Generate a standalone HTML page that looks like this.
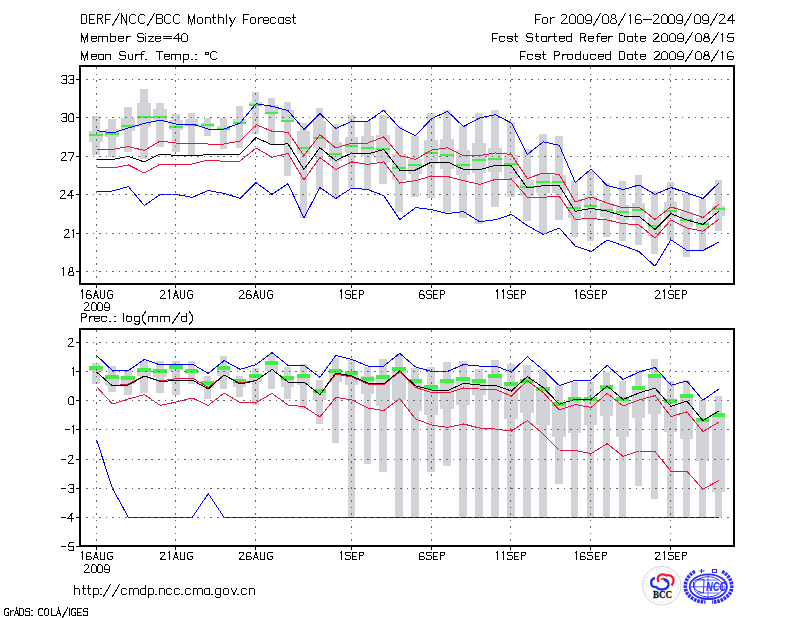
<!DOCTYPE html>
<html><head><meta charset="utf-8"><style>
html,body{margin:0;padding:0;background:#fff;}
body{width:800px;height:618px;position:relative;overflow:hidden;}
</style></head><body>
<svg width="800" height="618" viewBox="0 0 800 618" style="position:absolute;left:0;top:0">
<rect width="800" height="618" fill="#fff"/>
<g shape-rendering="crispEdges">
<rect x="92" y="116" width="8" height="39.00" fill="#d2d3d8"/>
<rect x="89" y="131" width="14" height="11.00" fill="#d2d3d8"/>
<rect x="108" y="119" width="8" height="38.00" fill="#d2d3d8"/>
<rect x="105" y="129" width="14" height="8.00" fill="#d2d3d8"/>
<rect x="124" y="107" width="8" height="45.00" fill="#d2d3d8"/>
<rect x="121" y="118" width="14" height="13.00" fill="#d2d3d8"/>
<rect x="140" y="89" width="8" height="70.00" fill="#d2d3d8"/>
<rect x="137" y="103" width="14" height="24.00" fill="#d2d3d8"/>
<rect x="156" y="103" width="8" height="44.00" fill="#d2d3d8"/>
<rect x="153" y="109" width="14" height="12.00" fill="#d2d3d8"/>
<rect x="172" y="114" width="8" height="38.00" fill="#d2d3d8"/>
<rect x="169" y="120" width="14" height="10.00" fill="#d2d3d8"/>
<rect x="188" y="113" width="7" height="42.00" fill="#d2d3d8"/>
<rect x="185" y="119" width="13" height="6.00" fill="#d2d3d8"/>
<rect x="204" y="118" width="7" height="18.00" fill="#d2d3d8"/>
<rect x="201" y="123" width="13" height="4.00" fill="#d2d3d8"/>
<rect x="220" y="118" width="7" height="31.00" fill="#d2d3d8"/>
<rect x="217" y="126" width="13" height="4.00" fill="#d2d3d8"/>
<rect x="236" y="106" width="7" height="42.00" fill="#d2d3d8"/>
<rect x="233" y="119" width="13" height="5.00" fill="#d2d3d8"/>
<rect x="252" y="92" width="7" height="42.00" fill="#d2d3d8"/>
<rect x="249" y="102" width="13" height="3.00" fill="#d2d3d8"/>
<rect x="268" y="98" width="7" height="47.00" fill="#d2d3d8"/>
<rect x="265" y="105" width="13" height="9.00" fill="#d2d3d8"/>
<rect x="284" y="102" width="7" height="74.00" fill="#d2d3d8"/>
<rect x="281" y="110" width="13" height="11.00" fill="#d2d3d8"/>
<rect x="300" y="123" width="7" height="95.00" fill="#d2d3d8"/>
<rect x="297" y="131" width="13" height="23.00" fill="#d2d3d8"/>
<rect x="316" y="108" width="7" height="82.00" fill="#d2d3d8"/>
<rect x="313" y="121" width="13" height="27.00" fill="#d2d3d8"/>
<rect x="332" y="124" width="7" height="75.00" fill="#d2d3d8"/>
<rect x="329" y="142" width="13" height="19.00" fill="#d2d3d8"/>
<rect x="348" y="115" width="7" height="73.00" fill="#d2d3d8"/>
<rect x="345" y="137" width="13" height="16.00" fill="#d2d3d8"/>
<rect x="364" y="121" width="7" height="69.00" fill="#d2d3d8"/>
<rect x="361" y="136" width="13" height="20.00" fill="#d2d3d8"/>
<rect x="379" y="115" width="8" height="69.00" fill="#d2d3d8"/>
<rect x="376" y="135" width="14" height="27.00" fill="#d2d3d8"/>
<rect x="395" y="126" width="8" height="86.00" fill="#d2d3d8"/>
<rect x="392" y="154" width="14" height="26.00" fill="#d2d3d8"/>
<rect x="411" y="136" width="8" height="61.00" fill="#d2d3d8"/>
<rect x="408" y="159" width="14" height="15.00" fill="#d2d3d8"/>
<rect x="427" y="113" width="8" height="85.00" fill="#d2d3d8"/>
<rect x="424" y="140" width="14" height="24.00" fill="#d2d3d8"/>
<rect x="443" y="110" width="8" height="102.00" fill="#d2d3d8"/>
<rect x="440" y="139" width="14" height="30.00" fill="#d2d3d8"/>
<rect x="459" y="126" width="8" height="92.00" fill="#d2d3d8"/>
<rect x="456" y="150" width="14" height="25.00" fill="#d2d3d8"/>
<rect x="475" y="113" width="8" height="111.00" fill="#d2d3d8"/>
<rect x="472" y="143" width="14" height="30.00" fill="#d2d3d8"/>
<rect x="491" y="110" width="8" height="97.00" fill="#d2d3d8"/>
<rect x="488" y="148" width="14" height="24.00" fill="#d2d3d8"/>
<rect x="507" y="122" width="8" height="75.00" fill="#d2d3d8"/>
<rect x="504" y="155" width="14" height="24.00" fill="#d2d3d8"/>
<rect x="523" y="149" width="8" height="72.00" fill="#d2d3d8"/>
<rect x="520" y="180" width="14" height="16.00" fill="#d2d3d8"/>
<rect x="539" y="134" width="8" height="100.00" fill="#d2d3d8"/>
<rect x="536" y="174" width="14" height="19.00" fill="#d2d3d8"/>
<rect x="555" y="136" width="8" height="84.00" fill="#d2d3d8"/>
<rect x="552" y="175" width="14" height="18.00" fill="#d2d3d8"/>
<rect x="571" y="181" width="7" height="56.00" fill="#d2d3d8"/>
<rect x="568" y="199" width="13" height="19.00" fill="#d2d3d8"/>
<rect x="587" y="171" width="7" height="70.00" fill="#d2d3d8"/>
<rect x="584" y="196" width="13" height="22.00" fill="#d2d3d8"/>
<rect x="603" y="183" width="7" height="54.00" fill="#d2d3d8"/>
<rect x="600" y="203" width="13" height="14.00" fill="#d2d3d8"/>
<rect x="619" y="181" width="7" height="60.00" fill="#d2d3d8"/>
<rect x="616" y="205" width="13" height="15.00" fill="#d2d3d8"/>
<rect x="635" y="175" width="7" height="70.00" fill="#d2d3d8"/>
<rect x="632" y="203" width="13" height="17.00" fill="#d2d3d8"/>
<rect x="651" y="191" width="7" height="63.00" fill="#d2d3d8"/>
<rect x="648" y="217" width="13" height="19.00" fill="#d2d3d8"/>
<rect x="667" y="182" width="7" height="58.00" fill="#d2d3d8"/>
<rect x="664" y="202" width="13" height="16.00" fill="#d2d3d8"/>
<rect x="683" y="193" width="7" height="64.00" fill="#d2d3d8"/>
<rect x="680" y="212" width="13" height="15.00" fill="#d2d3d8"/>
<rect x="699" y="199" width="7" height="52.00" fill="#d2d3d8"/>
<rect x="696" y="218" width="13" height="11.00" fill="#d2d3d8"/>
<rect x="715" y="180" width="7" height="51.00" fill="#d2d3d8"/>
<rect x="712" y="206" width="13" height="10.00" fill="#d2d3d8"/>
<rect x="89" y="134" width="14" height="2" fill="#42ee42"/>
<rect x="105" y="133" width="14" height="2" fill="#42ee42"/>
<rect x="121" y="125" width="14" height="2" fill="#42ee42"/>
<rect x="137" y="116" width="14" height="2" fill="#42ee42"/>
<rect x="153" y="116" width="14" height="2" fill="#42ee42"/>
<rect x="169" y="126" width="14" height="2" fill="#42ee42"/>
<rect x="185" y="124" width="13" height="2" fill="#42ee42"/>
<rect x="201" y="124" width="13" height="2" fill="#42ee42"/>
<rect x="217" y="128" width="13" height="2" fill="#42ee42"/>
<rect x="233" y="122" width="13" height="2" fill="#42ee42"/>
<rect x="249" y="104" width="13" height="2" fill="#42ee42"/>
<rect x="265" y="112" width="13" height="2" fill="#42ee42"/>
<rect x="281" y="120" width="13" height="2" fill="#42ee42"/>
<rect x="297" y="147" width="13" height="2" fill="#42ee42"/>
<rect x="313" y="137" width="13" height="2" fill="#42ee42"/>
<rect x="329" y="153" width="13" height="2" fill="#42ee42"/>
<rect x="345" y="145" width="13" height="2" fill="#42ee42"/>
<rect x="361" y="147" width="13" height="2" fill="#42ee42"/>
<rect x="376" y="148" width="14" height="2" fill="#42ee42"/>
<rect x="392" y="167" width="14" height="2" fill="#42ee42"/>
<rect x="408" y="164" width="14" height="2" fill="#42ee42"/>
<rect x="424" y="152" width="14" height="2" fill="#42ee42"/>
<rect x="440" y="154" width="14" height="2" fill="#42ee42"/>
<rect x="456" y="164" width="14" height="2" fill="#42ee42"/>
<rect x="472" y="159" width="14" height="2" fill="#42ee42"/>
<rect x="488" y="158" width="14" height="2" fill="#42ee42"/>
<rect x="504" y="163" width="14" height="2" fill="#42ee42"/>
<rect x="520" y="186" width="14" height="2" fill="#42ee42"/>
<rect x="536" y="181" width="14" height="2" fill="#42ee42"/>
<rect x="552" y="181" width="14" height="2" fill="#42ee42"/>
<rect x="568" y="207" width="13" height="2" fill="#42ee42"/>
<rect x="584" y="205" width="13" height="2" fill="#42ee42"/>
<rect x="600" y="209" width="13" height="2" fill="#42ee42"/>
<rect x="616" y="211" width="13" height="2" fill="#42ee42"/>
<rect x="632" y="209" width="13" height="2" fill="#42ee42"/>
<rect x="648" y="225" width="13" height="2" fill="#42ee42"/>
<rect x="664" y="210" width="13" height="2" fill="#42ee42"/>
<rect x="680" y="219" width="13" height="2" fill="#42ee42"/>
<rect x="696" y="223" width="13" height="2" fill="#42ee42"/>
<rect x="712" y="208" width="13" height="2" fill="#42ee42"/>
</g>
<polyline points="96.50,192.00 112.46,191.00 128.41,186.60 144.37,205.60 160.33,194.40 176.28,194.40 192.24,197.40 208.20,190.60 224.16,193.40 240.11,198.40 256.07,182.60 272.03,194.40 287.98,183.60 303.94,218.00 319.90,187.60 335.86,198.40 351.81,188.00 367.77,189.60 383.73,195.60 399.68,219.60 415.64,207.60 431.60,209.60 447.55,213.60 463.51,211.60 479.47,221.60 495.43,219.75 511.38,214.40 527.34,225.60 543.30,234.40 559.25,228.00 575.21,246.00 591.17,251.60 607.12,240.00 623.08,245.60 639.04,251.60 655.00,266.25 670.95,239.75 686.91,250.40 702.87,250.40 718.82,242.25" fill="none" stroke="#0000ff" stroke-width="1" stroke-linejoin="miter" shape-rendering="crispEdges"/>
<polyline points="96.50,167.00 112.46,168.00 128.41,165.00 144.37,173.00 160.33,164.00 176.28,164.00 192.24,164.00 208.20,160.00 224.16,161.40 240.11,161.00 256.07,148.00 272.03,157.25 287.98,153.50 303.94,180.00 319.90,157.50 335.86,169.40 351.81,161.90 367.77,164.40 383.73,161.90 399.68,183.00 415.64,180.60 431.60,176.00 447.55,176.50 463.51,180.60 479.47,184.40 495.43,179.40 511.38,179.00 527.34,197.25 543.30,197.25 559.25,196.25 575.21,219.40 591.17,218.40 607.12,220.00 623.08,223.60 639.04,225.00 655.00,238.00 670.95,220.00 686.91,228.00 702.87,231.25 718.82,219.40" fill="none" stroke="#e8143c" stroke-width="1" stroke-linejoin="miter" shape-rendering="crispEdges"/>
<polyline points="96.50,159.00 112.46,159.40 128.41,156.40 144.37,162.00 160.33,154.00 176.28,155.50 192.24,156.00 208.20,154.50 224.16,155.00 240.11,154.00 256.07,137.50 272.03,145.00 287.98,143.75 303.94,169.40 319.90,147.75 335.86,160.60 351.81,153.00 367.77,154.00 383.73,149.40 399.68,170.00 415.64,170.00 431.60,162.00 447.55,162.00 463.51,169.40 479.47,169.75 495.43,165.25 511.38,166.00 527.34,188.00 543.30,185.60 559.25,185.60 575.21,211.25 591.17,208.40 607.12,211.00 623.08,216.00 639.04,216.40 655.00,229.40 670.95,213.75 686.91,220.00 702.87,224.40 718.82,211.25" fill="none" stroke="#000" stroke-width="1" stroke-linejoin="miter" shape-rendering="crispEdges"/>
<polyline points="96.50,149.40 112.46,149.40 128.41,146.60 144.37,150.40 160.33,141.00 176.28,143.00 192.24,143.00 208.20,144.00 224.16,144.00 240.11,141.00 256.07,124.75 272.03,131.25 287.98,132.25 303.94,155.60 319.90,134.75 335.86,148.00 351.81,143.00 367.77,143.00 383.73,136.90 399.68,155.60 415.64,159.40 431.60,150.00 447.55,147.75 463.51,155.60 479.47,155.60 495.43,153.00 511.38,154.40 527.34,178.50 543.30,173.00 559.25,174.40 575.21,202.00 591.17,197.00 607.12,203.00 623.08,208.00 639.04,207.00 655.00,219.40 670.95,206.90 686.91,211.90 702.87,217.50 718.82,204.40" fill="none" stroke="#e8143c" stroke-width="1" stroke-linejoin="miter" shape-rendering="crispEdges"/>
<polyline points="96.50,130.60 112.46,133.00 128.41,128.00 144.37,123.40 160.33,120.00 176.28,124.00 192.24,124.00 208.20,129.00 224.16,129.00 240.11,123.00 256.07,103.75 272.03,106.25 287.98,110.60 303.94,129.40 319.90,113.40 335.86,128.50 351.81,121.25 367.77,121.25 383.73,110.25 399.68,128.00 415.64,135.60 431.60,118.60 447.55,111.40 463.51,126.60 479.47,118.00 495.43,114.75 511.38,123.00 527.34,154.40 543.30,141.90 559.25,145.25 575.21,182.50 591.17,169.00 607.12,185.60 623.08,189.60 639.04,185.00 655.00,194.40 670.95,187.50 686.91,192.75 702.87,198.50 718.82,183.00" fill="none" stroke="#0000ff" stroke-width="1" stroke-linejoin="miter" shape-rendering="crispEdges"/>
<line x1="81" y1="79.5" x2="733" y2="79.5" stroke="#666666" stroke-width="1" stroke-dasharray="1.6 4.945" stroke-dashoffset="1.545" shape-rendering="crispEdges"/>
<line x1="81" y1="117.5" x2="733" y2="117.5" stroke="#666666" stroke-width="1" stroke-dasharray="1.6 4.945" stroke-dashoffset="1.545" shape-rendering="crispEdges"/>
<line x1="81" y1="156.5" x2="733" y2="156.5" stroke="#666666" stroke-width="1" stroke-dasharray="1.6 4.945" stroke-dashoffset="1.545" shape-rendering="crispEdges"/>
<line x1="81" y1="194.5" x2="733" y2="194.5" stroke="#666666" stroke-width="1" stroke-dasharray="1.6 4.945" stroke-dashoffset="1.545" shape-rendering="crispEdges"/>
<line x1="81" y1="233.5" x2="733" y2="233.5" stroke="#666666" stroke-width="1" stroke-dasharray="1.6 4.945" stroke-dashoffset="1.545" shape-rendering="crispEdges"/>
<line x1="81" y1="271.5" x2="733" y2="271.5" stroke="#666666" stroke-width="1" stroke-dasharray="1.6 4.945" stroke-dashoffset="1.545" shape-rendering="crispEdges"/>
<line x1="96.5" y1="67" x2="96.5" y2="283" stroke="#666666" stroke-width="1" stroke-dasharray="1.6 4.945" shape-rendering="crispEdges"/>
<line x1="175.5" y1="67" x2="175.5" y2="283" stroke="#666666" stroke-width="1" stroke-dasharray="1.6 4.945" shape-rendering="crispEdges"/>
<line x1="255.5" y1="67" x2="255.5" y2="283" stroke="#666666" stroke-width="1" stroke-dasharray="1.6 4.945" shape-rendering="crispEdges"/>
<line x1="351.5" y1="67" x2="351.5" y2="283" stroke="#666666" stroke-width="1" stroke-dasharray="1.6 4.945" shape-rendering="crispEdges"/>
<line x1="431.5" y1="67" x2="431.5" y2="283" stroke="#666666" stroke-width="1" stroke-dasharray="1.6 4.945" shape-rendering="crispEdges"/>
<line x1="510.5" y1="67" x2="510.5" y2="283" stroke="#666666" stroke-width="1" stroke-dasharray="1.6 4.945" shape-rendering="crispEdges"/>
<line x1="590.5" y1="67" x2="590.5" y2="283" stroke="#666666" stroke-width="1" stroke-dasharray="1.6 4.945" shape-rendering="crispEdges"/>
<line x1="670.5" y1="67" x2="670.5" y2="283" stroke="#666666" stroke-width="1" stroke-dasharray="1.6 4.945" shape-rendering="crispEdges"/>
<rect x="80" y="66" width="654" height="218" fill="none" stroke="#000" stroke-width="2" shape-rendering="crispEdges"/>
<line x1="76" y1="79.5" x2="79" y2="79.5" stroke="#000" stroke-width="1" shape-rendering="crispEdges"/>
<line x1="76" y1="117.5" x2="79" y2="117.5" stroke="#000" stroke-width="1" shape-rendering="crispEdges"/>
<line x1="76" y1="156.5" x2="79" y2="156.5" stroke="#000" stroke-width="1" shape-rendering="crispEdges"/>
<line x1="76" y1="194.5" x2="79" y2="194.5" stroke="#000" stroke-width="1" shape-rendering="crispEdges"/>
<line x1="76" y1="233.5" x2="79" y2="233.5" stroke="#000" stroke-width="1" shape-rendering="crispEdges"/>
<line x1="76" y1="271.5" x2="79" y2="271.5" stroke="#000" stroke-width="1" shape-rendering="crispEdges"/>
<line x1="96.5" y1="285" x2="96.5" y2="288" stroke="#000" stroke-width="1" shape-rendering="crispEdges"/>
<line x1="175.5" y1="285" x2="175.5" y2="288" stroke="#000" stroke-width="1" shape-rendering="crispEdges"/>
<line x1="255.5" y1="285" x2="255.5" y2="288" stroke="#000" stroke-width="1" shape-rendering="crispEdges"/>
<line x1="351.5" y1="285" x2="351.5" y2="288" stroke="#000" stroke-width="1" shape-rendering="crispEdges"/>
<line x1="431.5" y1="285" x2="431.5" y2="288" stroke="#000" stroke-width="1" shape-rendering="crispEdges"/>
<line x1="510.5" y1="285" x2="510.5" y2="288" stroke="#000" stroke-width="1" shape-rendering="crispEdges"/>
<line x1="590.5" y1="285" x2="590.5" y2="288" stroke="#000" stroke-width="1" shape-rendering="crispEdges"/>
<line x1="670.5" y1="285" x2="670.5" y2="288" stroke="#000" stroke-width="1" shape-rendering="crispEdges"/>
<g shape-rendering="crispEdges">
<rect x="92" y="363" width="8" height="21.00" fill="#d2d3d8"/>
<rect x="89" y="366" width="14" height="5.00" fill="#d2d3d8"/>
<rect x="108" y="366" width="8" height="26.00" fill="#d2d3d8"/>
<rect x="105" y="375" width="14" height="11.00" fill="#d2d3d8"/>
<rect x="124" y="370" width="8" height="25.00" fill="#d2d3d8"/>
<rect x="121" y="376" width="14" height="8.00" fill="#d2d3d8"/>
<rect x="140" y="361" width="8" height="31.50" fill="#d2d3d8"/>
<rect x="137" y="368" width="14" height="8.00" fill="#d2d3d8"/>
<rect x="156" y="361" width="8" height="31.50" fill="#d2d3d8"/>
<rect x="153" y="369" width="14" height="7.50" fill="#d2d3d8"/>
<rect x="172" y="361" width="8" height="33.60" fill="#d2d3d8"/>
<rect x="169" y="365" width="14" height="5.60" fill="#d2d3d8"/>
<rect x="188" y="361" width="7" height="23.00" fill="#d2d3d8"/>
<rect x="185" y="369" width="13" height="5.00" fill="#d2d3d8"/>
<rect x="204" y="376" width="7" height="23.40" fill="#d2d3d8"/>
<rect x="201" y="380.6" width="13" height="7.40" fill="#d2d3d8"/>
<rect x="220" y="356" width="7" height="33.00" fill="#d2d3d8"/>
<rect x="217" y="366" width="13" height="10.00" fill="#d2d3d8"/>
<rect x="236" y="376" width="7" height="21.40" fill="#d2d3d8"/>
<rect x="233" y="379" width="13" height="8.00" fill="#d2d3d8"/>
<rect x="252" y="368" width="7" height="36.60" fill="#d2d3d8"/>
<rect x="249" y="374" width="13" height="8.00" fill="#d2d3d8"/>
<rect x="268" y="354" width="7" height="34.60" fill="#d2d3d8"/>
<rect x="265" y="360.6" width="13" height="10.40" fill="#d2d3d8"/>
<rect x="284" y="366.6" width="7" height="32.00" fill="#d2d3d8"/>
<rect x="281" y="376" width="13" height="10.60" fill="#d2d3d8"/>
<rect x="300" y="364" width="7" height="45.40" fill="#d2d3d8"/>
<rect x="297" y="374" width="13" height="11.00" fill="#d2d3d8"/>
<rect x="316" y="380" width="7" height="43.50" fill="#d2d3d8"/>
<rect x="313" y="389" width="13" height="11.00" fill="#d2d3d8"/>
<rect x="332" y="358" width="7" height="84.50" fill="#d2d3d8"/>
<rect x="329" y="369" width="13" height="13.00" fill="#d2d3d8"/>
<rect x="348" y="360" width="7" height="157.00" fill="#d2d3d8"/>
<rect x="345" y="371.4" width="13" height="14.00" fill="#d2d3d8"/>
<rect x="364" y="367" width="7" height="96.60" fill="#d2d3d8"/>
<rect x="361" y="376" width="13" height="18.00" fill="#d2d3d8"/>
<rect x="379" y="359.4" width="8" height="112.20" fill="#d2d3d8"/>
<rect x="376" y="375" width="14" height="31.00" fill="#d2d3d8"/>
<rect x="395" y="354" width="8" height="163.00" fill="#d2d3d8"/>
<rect x="392" y="367" width="14" height="33.00" fill="#d2d3d8"/>
<rect x="411" y="368" width="8" height="149.00" fill="#d2d3d8"/>
<rect x="408" y="379" width="14" height="32.00" fill="#d2d3d8"/>
<rect x="427" y="367" width="8" height="105.40" fill="#d2d3d8"/>
<rect x="424" y="385" width="14" height="29.60" fill="#d2d3d8"/>
<rect x="443" y="362" width="8" height="104.40" fill="#d2d3d8"/>
<rect x="440" y="379" width="14" height="29.60" fill="#d2d3d8"/>
<rect x="459" y="361" width="8" height="156.00" fill="#d2d3d8"/>
<rect x="456" y="377" width="14" height="28.40" fill="#d2d3d8"/>
<rect x="475" y="369" width="8" height="148.00" fill="#d2d3d8"/>
<rect x="472" y="379" width="14" height="16.40" fill="#d2d3d8"/>
<rect x="491" y="360" width="8" height="157.00" fill="#d2d3d8"/>
<rect x="488" y="374" width="14" height="26.00" fill="#d2d3d8"/>
<rect x="507" y="364" width="8" height="153.00" fill="#d2d3d8"/>
<rect x="504" y="382" width="14" height="36.60" fill="#d2d3d8"/>
<rect x="523" y="365" width="8" height="152.00" fill="#d2d3d8"/>
<rect x="520" y="379" width="14" height="33.60" fill="#d2d3d8"/>
<rect x="539" y="369" width="8" height="148.00" fill="#d2d3d8"/>
<rect x="536" y="386.6" width="14" height="38.00" fill="#d2d3d8"/>
<rect x="555" y="386" width="8" height="97.60" fill="#d2d3d8"/>
<rect x="552" y="402" width="14" height="35.00" fill="#d2d3d8"/>
<rect x="571" y="382" width="7" height="135.00" fill="#d2d3d8"/>
<rect x="568" y="397" width="13" height="36.00" fill="#d2d3d8"/>
<rect x="587" y="382" width="7" height="135.00" fill="#d2d3d8"/>
<rect x="584" y="397" width="13" height="28.00" fill="#d2d3d8"/>
<rect x="603" y="372" width="7" height="145.00" fill="#d2d3d8"/>
<rect x="600" y="385" width="13" height="31.00" fill="#d2d3d8"/>
<rect x="619" y="381" width="7" height="136.00" fill="#d2d3d8"/>
<rect x="616" y="397.4" width="13" height="39.60" fill="#d2d3d8"/>
<rect x="635" y="370" width="7" height="116.40" fill="#d2d3d8"/>
<rect x="632" y="386" width="13" height="32.00" fill="#d2d3d8"/>
<rect x="651" y="359" width="7" height="139.90" fill="#d2d3d8"/>
<rect x="648" y="374" width="13" height="40.40" fill="#d2d3d8"/>
<rect x="667" y="381" width="7" height="136.00" fill="#d2d3d8"/>
<rect x="664" y="399" width="13" height="32.90" fill="#d2d3d8"/>
<rect x="683" y="380" width="7" height="137.00" fill="#d2d3d8"/>
<rect x="680" y="394" width="13" height="44.75" fill="#d2d3d8"/>
<rect x="699" y="400" width="7" height="117.00" fill="#d2d3d8"/>
<rect x="696" y="417.75" width="13" height="42.85" fill="#d2d3d8"/>
<rect x="715" y="396" width="7" height="121.00" fill="#d2d3d8"/>
<rect x="712" y="412.9" width="13" height="78.85" fill="#d2d3d8"/>
<rect x="89" y="366" width="14" height="4" fill="#42ee42"/>
<rect x="105" y="375" width="14" height="4" fill="#42ee42"/>
<rect x="121" y="376" width="14" height="4" fill="#42ee42"/>
<rect x="137" y="368" width="14" height="4" fill="#42ee42"/>
<rect x="153" y="369" width="14" height="4" fill="#42ee42"/>
<rect x="169" y="365" width="14" height="4" fill="#42ee42"/>
<rect x="185" y="369" width="13" height="4" fill="#42ee42"/>
<rect x="201" y="381" width="13" height="4" fill="#42ee42"/>
<rect x="217" y="366" width="13" height="4" fill="#42ee42"/>
<rect x="233" y="379" width="13" height="4" fill="#42ee42"/>
<rect x="249" y="374" width="13" height="4" fill="#42ee42"/>
<rect x="265" y="361" width="13" height="4" fill="#42ee42"/>
<rect x="281" y="376" width="13" height="4" fill="#42ee42"/>
<rect x="297" y="374" width="13" height="4" fill="#42ee42"/>
<rect x="313" y="389" width="13" height="4" fill="#42ee42"/>
<rect x="329" y="369" width="13" height="4" fill="#42ee42"/>
<rect x="345" y="371" width="13" height="4" fill="#42ee42"/>
<rect x="361" y="376.6" width="13" height="4" fill="#42ee42"/>
<rect x="376" y="375" width="14" height="4" fill="#42ee42"/>
<rect x="392" y="367" width="14" height="4" fill="#42ee42"/>
<rect x="408" y="379" width="14" height="4" fill="#42ee42"/>
<rect x="424" y="385" width="14" height="4" fill="#42ee42"/>
<rect x="440" y="379" width="14" height="4" fill="#42ee42"/>
<rect x="456" y="377" width="14" height="4" fill="#42ee42"/>
<rect x="472" y="379" width="14" height="4" fill="#42ee42"/>
<rect x="488" y="374" width="14" height="4" fill="#42ee42"/>
<rect x="504" y="382" width="14" height="4" fill="#42ee42"/>
<rect x="520" y="379" width="14" height="4" fill="#42ee42"/>
<rect x="536" y="387" width="14" height="4" fill="#42ee42"/>
<rect x="552" y="402" width="14" height="4" fill="#42ee42"/>
<rect x="568" y="397" width="13" height="4" fill="#42ee42"/>
<rect x="584" y="397" width="13" height="4" fill="#42ee42"/>
<rect x="600" y="385" width="13" height="4" fill="#42ee42"/>
<rect x="616" y="397" width="13" height="4" fill="#42ee42"/>
<rect x="632" y="386" width="13" height="4" fill="#42ee42"/>
<rect x="648" y="374" width="13" height="4" fill="#42ee42"/>
<rect x="664" y="399" width="13" height="4" fill="#42ee42"/>
<rect x="680" y="394" width="13" height="4" fill="#42ee42"/>
<rect x="696" y="418" width="13" height="4" fill="#42ee42"/>
<rect x="712" y="413" width="13" height="4" fill="#42ee42"/>
</g>
<polyline points="96.50,439.60 112.46,488.40 128.41,517.40 144.37,517.40 160.33,517.40 176.28,517.40 192.24,517.40 208.20,493.60 224.16,517.40 240.11,517.40 256.07,517.40 272.03,517.40 287.98,517.40 303.94,517.40 319.90,517.40 335.86,517.40 351.81,517.40 367.77,517.40 383.73,517.40 399.68,517.40 415.64,517.40 431.60,517.40 447.55,517.40 463.51,517.40 479.47,517.40 495.43,517.40 511.38,517.40 527.34,517.40 543.30,517.40 559.25,517.40 575.21,517.40 591.17,517.40 607.12,517.40 623.08,517.40 639.04,517.40 655.00,517.40 670.95,517.40 686.91,517.40 702.87,517.40 718.82,517.40" fill="none" stroke="#0000ff" stroke-width="1" stroke-linejoin="miter" shape-rendering="crispEdges"/>
<polyline points="96.50,386.60 112.46,404.00 128.41,399.00 144.37,394.60 160.33,405.40 176.28,402.00 192.24,398.00 208.20,405.40 224.16,393.00 240.11,402.60 256.07,402.60 272.03,393.40 287.98,405.00 303.94,406.60 319.90,417.00 335.86,397.40 351.81,400.00 367.77,408.00 383.73,410.60 399.68,398.60 415.64,419.00 431.60,425.00 447.55,427.40 463.51,424.00 479.47,428.00 495.43,429.00 511.38,431.00 527.34,420.60 543.30,434.00 559.25,450.00 575.21,450.40 591.17,453.60 607.12,443.60 623.08,456.40 639.04,451.00 655.00,451.50 670.95,471.25 686.91,471.25 702.87,489.25 718.82,480.50" fill="none" stroke="#e8143c" stroke-width="1" stroke-linejoin="miter" shape-rendering="crispEdges"/>
<polyline points="96.50,372.00 112.46,386.00 128.41,384.00 144.37,376.00 160.33,381.00 176.28,378.60 192.24,378.00 208.20,387.40 224.16,375.00 240.11,383.00 256.07,380.60 272.03,369.40 287.98,382.00 303.94,382.00 319.90,394.60 335.86,374.00 351.81,377.00 367.77,384.00 383.73,384.50 399.68,372.00 415.64,387.40 431.60,392.60 447.55,393.00 463.51,388.00 479.47,389.00 495.43,389.40 511.38,396.00 527.34,380.60 543.30,392.50 559.25,410.00 575.21,404.60 591.17,407.40 607.12,393.40 623.08,406.00 639.04,400.00 655.00,395.60 670.95,416.50 686.91,411.90 702.87,431.50 718.82,422.25" fill="none" stroke="#e8143c" stroke-width="1" stroke-linejoin="miter" shape-rendering="crispEdges"/>
<polyline points="96.50,372.00 112.46,386.00 128.41,385.00 144.37,376.00 160.33,381.40 176.28,380.60 192.24,380.00 208.20,389.00 224.16,375.00 240.11,384.00 256.07,380.60 272.03,369.40 287.98,382.00 303.94,382.00 319.90,394.60 335.86,373.00 351.81,376.00 367.77,383.00 383.73,384.00 399.68,371.00 415.64,386.00 431.60,390.00 447.55,390.60 463.51,383.40 479.47,385.00 495.43,385.40 511.38,391.00 527.34,376.60 543.30,387.50 559.25,404.20 575.21,399.30 591.17,399.40 607.12,386.00 623.08,399.40 639.04,393.00 655.00,388.00 670.95,406.25 686.91,401.00 702.87,420.60 718.82,411.00" fill="none" stroke="#000" stroke-width="1" stroke-linejoin="miter" shape-rendering="crispEdges"/>
<polyline points="96.50,355.40 112.46,370.60 128.41,370.60 144.37,359.40 160.33,365.00 176.28,364.60 192.24,364.00 208.20,373.40 224.16,360.60 240.11,369.40 256.07,364.60 272.03,352.60 287.98,365.40 303.94,365.40 319.90,377.40 335.86,355.40 351.81,359.40 367.77,366.00 383.73,366.00 399.68,353.40 415.64,367.00 431.60,371.40 447.55,371.40 463.51,364.60 479.47,366.00 495.43,366.00 511.38,372.00 527.34,356.70 543.30,370.00 559.25,385.50 575.21,380.30 591.17,380.00 607.12,365.40 623.08,379.40 639.04,372.00 655.00,367.50 670.95,385.25 686.91,381.00 702.87,400.25 718.82,389.00" fill="none" stroke="#0000ff" stroke-width="1" stroke-linejoin="miter" shape-rendering="crispEdges"/>
<line x1="81" y1="342.5" x2="733" y2="342.5" stroke="#666666" stroke-width="1" stroke-dasharray="1.6 4.945" stroke-dashoffset="1.545" shape-rendering="crispEdges"/>
<line x1="81" y1="371.5" x2="733" y2="371.5" stroke="#666666" stroke-width="1" stroke-dasharray="1.6 4.945" stroke-dashoffset="1.545" shape-rendering="crispEdges"/>
<line x1="81" y1="400.5" x2="733" y2="400.5" stroke="#666666" stroke-width="1" stroke-dasharray="1.6 4.945" stroke-dashoffset="1.545" shape-rendering="crispEdges"/>
<line x1="81" y1="429.5" x2="733" y2="429.5" stroke="#666666" stroke-width="1" stroke-dasharray="1.6 4.945" stroke-dashoffset="1.545" shape-rendering="crispEdges"/>
<line x1="81" y1="459.5" x2="733" y2="459.5" stroke="#666666" stroke-width="1" stroke-dasharray="1.6 4.945" stroke-dashoffset="1.545" shape-rendering="crispEdges"/>
<line x1="81" y1="488.5" x2="733" y2="488.5" stroke="#666666" stroke-width="1" stroke-dasharray="1.6 4.945" stroke-dashoffset="1.545" shape-rendering="crispEdges"/>
<line x1="81" y1="517.5" x2="733" y2="517.5" stroke="#666666" stroke-width="1" stroke-dasharray="1.6 4.945" stroke-dashoffset="1.545" shape-rendering="crispEdges"/>
<line x1="96.5" y1="330" x2="96.5" y2="545" stroke="#666666" stroke-width="1" stroke-dasharray="1.6 4.945" shape-rendering="crispEdges"/>
<line x1="175.5" y1="330" x2="175.5" y2="545" stroke="#666666" stroke-width="1" stroke-dasharray="1.6 4.945" shape-rendering="crispEdges"/>
<line x1="255.5" y1="330" x2="255.5" y2="545" stroke="#666666" stroke-width="1" stroke-dasharray="1.6 4.945" shape-rendering="crispEdges"/>
<line x1="351.5" y1="330" x2="351.5" y2="545" stroke="#666666" stroke-width="1" stroke-dasharray="1.6 4.945" shape-rendering="crispEdges"/>
<line x1="431.5" y1="330" x2="431.5" y2="545" stroke="#666666" stroke-width="1" stroke-dasharray="1.6 4.945" shape-rendering="crispEdges"/>
<line x1="510.5" y1="330" x2="510.5" y2="545" stroke="#666666" stroke-width="1" stroke-dasharray="1.6 4.945" shape-rendering="crispEdges"/>
<line x1="590.5" y1="330" x2="590.5" y2="545" stroke="#666666" stroke-width="1" stroke-dasharray="1.6 4.945" shape-rendering="crispEdges"/>
<line x1="670.5" y1="330" x2="670.5" y2="545" stroke="#666666" stroke-width="1" stroke-dasharray="1.6 4.945" shape-rendering="crispEdges"/>
<rect x="80" y="329" width="654" height="217" fill="none" stroke="#000" stroke-width="2" shape-rendering="crispEdges"/>
<line x1="76" y1="342.5" x2="79" y2="342.5" stroke="#000" stroke-width="1" shape-rendering="crispEdges"/>
<line x1="76" y1="371.5" x2="79" y2="371.5" stroke="#000" stroke-width="1" shape-rendering="crispEdges"/>
<line x1="76" y1="400.5" x2="79" y2="400.5" stroke="#000" stroke-width="1" shape-rendering="crispEdges"/>
<line x1="76" y1="429.5" x2="79" y2="429.5" stroke="#000" stroke-width="1" shape-rendering="crispEdges"/>
<line x1="76" y1="459.5" x2="79" y2="459.5" stroke="#000" stroke-width="1" shape-rendering="crispEdges"/>
<line x1="76" y1="488.5" x2="79" y2="488.5" stroke="#000" stroke-width="1" shape-rendering="crispEdges"/>
<line x1="76" y1="517.5" x2="79" y2="517.5" stroke="#000" stroke-width="1" shape-rendering="crispEdges"/>
<line x1="76" y1="546.5" x2="79" y2="546.5" stroke="#000" stroke-width="1" shape-rendering="crispEdges"/>
<line x1="96.5" y1="547" x2="96.5" y2="550" stroke="#000" stroke-width="1" shape-rendering="crispEdges"/>
<line x1="175.5" y1="547" x2="175.5" y2="550" stroke="#000" stroke-width="1" shape-rendering="crispEdges"/>
<line x1="255.5" y1="547" x2="255.5" y2="550" stroke="#000" stroke-width="1" shape-rendering="crispEdges"/>
<line x1="351.5" y1="547" x2="351.5" y2="550" stroke="#000" stroke-width="1" shape-rendering="crispEdges"/>
<line x1="431.5" y1="547" x2="431.5" y2="550" stroke="#000" stroke-width="1" shape-rendering="crispEdges"/>
<line x1="510.5" y1="547" x2="510.5" y2="550" stroke="#000" stroke-width="1" shape-rendering="crispEdges"/>
<line x1="590.5" y1="547" x2="590.5" y2="550" stroke="#000" stroke-width="1" shape-rendering="crispEdges"/>
<line x1="670.5" y1="547" x2="670.5" y2="550" stroke="#000" stroke-width="1" shape-rendering="crispEdges"/>
<g fill="none" stroke="#000" stroke-width="1" shape-rendering="crispEdges" stroke-linecap="square">
<polyline points="81.50,14.50 85.50,14.50 86.50,15.50 86.50,22.50 85.50,23.50 81.50,23.50 81.50,14.50"/>
<polyline points="94.50,14.50 89.50,14.50 89.50,23.50 94.50,23.50"/>
<polyline points="89.50,19.50 93.50,19.50"/>
<polyline points="97.50,23.50 97.50,14.50 101.50,14.50 102.50,15.50 102.50,17.50 101.50,18.50 97.50,18.50"/>
<polyline points="100.50,18.50 102.50,23.50"/>
<polyline points="110.50,14.50 105.50,14.50 105.50,23.50"/>
<polyline points="105.50,19.50 109.50,19.50"/>
<polyline points="112.50,25.50 119.50,13.50"/>
<polyline points="121.50,23.50 121.50,14.50 126.50,23.50 126.50,14.50"/>
<polyline points="135.50,15.50 134.50,14.50 131.50,14.50 129.50,16.50 129.50,21.50 131.50,23.50 134.50,23.50 135.50,22.50"/>
<polyline points="144.50,15.50 143.50,14.50 140.50,14.50 138.50,16.50 138.50,21.50 140.50,23.50 143.50,23.50 144.50,22.50"/>
<polyline points="147.50,25.50 154.50,13.50"/>
<polyline points="156.50,23.50 156.50,14.50 161.50,14.50 162.50,15.50 162.50,17.50 161.50,18.50 156.50,18.50"/>
<polyline points="161.50,18.50 162.50,19.50 162.50,22.50 161.50,23.50 156.50,23.50"/>
<polyline points="170.50,15.50 169.50,14.50 166.50,14.50 164.50,16.50 164.50,21.50 166.50,23.50 169.50,23.50 170.50,22.50"/>
<polyline points="179.50,15.50 178.50,14.50 175.50,14.50 173.50,16.50 173.50,21.50 175.50,23.50 178.50,23.50 179.50,22.50"/>
<polyline points="188.50,23.50 188.50,14.50 191.50,23.50 194.50,14.50 194.50,23.50"/>
<polyline points="198.50,17.50 201.50,17.50 202.50,18.50 202.50,22.50 201.50,23.50 198.50,23.50 197.50,22.50 197.50,18.50 198.50,17.50"/>
<polyline points="205.50,17.50 205.50,23.50"/>
<polyline points="205.50,18.50 206.50,17.50 209.50,17.50 210.50,18.50 210.50,23.50"/>
<polyline points="213.50,14.50 213.50,22.50 214.50,23.50 215.50,23.50"/>
<polyline points="212.50,17.50 215.50,17.50"/>
<polyline points="218.50,14.50 218.50,23.50"/>
<polyline points="218.50,18.50 219.50,17.50 222.50,17.50 223.50,18.50 223.50,23.50"/>
<polyline points="226.50,14.50 226.50,23.50"/>
<polyline points="229.50,17.50 232.50,23.50"/>
<polyline points="235.50,17.50 230.50,26.50"/>
<polyline points="248.50,14.50 243.50,14.50 243.50,23.50"/>
<polyline points="243.50,19.50 247.50,19.50"/>
<polyline points="251.50,17.50 254.50,17.50 255.50,18.50 255.50,22.50 254.50,23.50 251.50,23.50 250.50,22.50 250.50,18.50 251.50,17.50"/>
<polyline points="258.50,17.50 258.50,23.50"/>
<polyline points="258.50,19.50 260.50,17.50 262.50,17.50"/>
<polyline points="263.50,20.50 268.50,20.50 268.50,18.50 267.50,17.50 264.50,17.50 263.50,18.50 263.50,22.50 264.50,23.50 267.50,23.50 268.50,22.50"/>
<polyline points="275.50,18.50 274.50,17.50 271.50,17.50 270.50,18.50 270.50,22.50 271.50,23.50 274.50,23.50 275.50,22.50"/>
<polyline points="283.50,17.50 283.50,23.50"/>
<polyline points="283.50,18.50 282.50,17.50 279.50,17.50 278.50,18.50 278.50,22.50 279.50,23.50 282.50,23.50 283.50,22.50"/>
<polyline points="290.50,18.50 289.50,17.50 286.50,17.50 285.50,18.50 285.50,19.50 286.50,20.50 289.50,20.50 290.50,21.50 290.50,22.50 289.50,23.50 286.50,23.50 285.50,22.50"/>
<polyline points="293.50,14.50 293.50,22.50 294.50,23.50 295.50,23.50"/>
<polyline points="292.50,17.50 295.50,17.50"/>
<polyline points="81.50,41.60 81.50,33.50 84.50,41.60 87.50,33.50 87.50,41.60"/>
<polyline points="91.50,38.90 96.50,38.90 96.50,37.10 95.50,36.20 92.50,36.20 91.50,37.10 91.50,40.70 92.50,41.60 95.50,41.60 96.50,40.70"/>
<polyline points="98.50,36.20 98.50,41.60"/>
<polyline points="98.50,37.10 99.50,36.20 101.50,36.20 102.50,37.10 102.50,41.60"/>
<polyline points="102.50,37.10 103.50,36.20 106.50,36.20 107.50,37.10 107.50,41.60"/>
<polyline points="110.50,33.50 110.50,41.60"/>
<polyline points="110.50,37.10 111.50,36.20 114.50,36.20 115.50,37.10 115.50,40.70 114.50,41.60 111.50,41.60 110.50,40.70"/>
<polyline points="118.50,38.90 123.50,38.90 123.50,37.10 122.50,36.20 119.50,36.20 118.50,37.10 118.50,40.70 119.50,41.60 122.50,41.60 123.50,40.70"/>
<polyline points="126.50,36.20 126.50,41.60"/>
<polyline points="126.50,38.00 128.50,36.20 130.50,36.20"/>
<polyline points="143.50,34.40 142.50,33.50 138.50,33.50 137.50,34.40 137.50,36.20 138.50,37.10 142.50,37.10 143.50,38.00 143.50,40.70 142.50,41.60 138.50,41.60 137.50,40.70"/>
<polyline points="145.50,33.05 145.50,33.86"/>
<polyline points="145.50,36.20 145.50,41.60"/>
<polyline points="148.50,36.20 153.50,36.20 148.50,41.60 153.50,41.60"/>
<polyline points="155.50,38.90 160.50,38.90 160.50,37.10 159.50,36.20 156.50,36.20 155.50,37.10 155.50,40.70 156.50,41.60 159.50,41.60 160.50,40.70"/>
<polyline points="163.50,36.20 171.50,36.20"/>
<polyline points="163.50,38.90 171.50,38.90"/>
<polyline points="178.50,33.50 173.50,38.90 180.50,38.90"/>
<polyline points="178.50,33.50 178.50,41.60"/>
<polyline points="183.50,33.50 185.50,33.50 187.50,35.30 187.50,40.70 186.50,41.60 182.50,41.60 181.50,40.70 181.50,35.30 183.50,33.50"/>
<polyline points="81.50,59.60 81.50,51.50 84.50,59.60 87.50,51.50 87.50,59.60"/>
<polyline points="91.50,56.90 96.50,56.90 96.50,55.10 95.50,54.20 92.50,54.20 91.50,55.10 91.50,58.70 92.50,59.60 95.50,59.60 96.50,58.70"/>
<polyline points="103.50,54.20 103.50,59.60"/>
<polyline points="103.50,55.10 102.50,54.20 99.50,54.20 98.50,55.10 98.50,58.70 99.50,59.60 102.50,59.60 103.50,58.70"/>
<polyline points="105.50,54.20 105.50,59.60"/>
<polyline points="105.50,55.10 106.50,54.20 109.50,54.20 110.50,55.10 110.50,59.60"/>
<polyline points="125.50,52.40 124.50,51.50 120.50,51.50 119.50,52.40 119.50,54.20 120.50,55.10 124.50,55.10 125.50,56.00 125.50,58.70 124.50,59.60 120.50,59.60 119.50,58.70"/>
<polyline points="128.50,54.20 128.50,58.70 129.50,59.60 131.50,59.60 132.50,58.70"/>
<polyline points="132.50,54.20 132.50,59.60"/>
<polyline points="135.50,54.20 135.50,59.60"/>
<polyline points="135.50,56.00 137.50,54.20 139.50,54.20"/>
<polyline points="144.50,51.50 142.50,51.50 141.50,52.40 141.50,59.60"/>
<polyline points="140.50,54.20 143.50,54.20"/>
<polyline points="145.50,59.60 146.50,59.60"/>
<polyline points="156.50,51.50 162.50,51.50"/>
<polyline points="159.50,51.50 159.50,59.60"/>
<polyline points="164.50,56.90 169.50,56.90 169.50,55.10 168.50,54.20 165.50,54.20 164.50,55.10 164.50,58.70 165.50,59.60 168.50,59.60 169.50,58.70"/>
<polyline points="171.50,54.20 171.50,59.60"/>
<polyline points="171.50,55.10 172.50,54.20 174.50,54.20 175.50,55.10 175.50,59.60"/>
<polyline points="175.50,55.10 176.50,54.20 179.50,54.20 180.50,55.10 180.50,59.60"/>
<polyline points="183.50,54.20 183.50,62.30"/>
<polyline points="183.50,55.10 184.50,54.20 187.50,54.20 188.50,55.10 188.50,58.70 187.50,59.60 184.50,59.60 183.50,58.70"/>
<polyline points="191.50,59.60 192.50,59.60"/>
<polyline points="195.50,54.20 196.50,54.20"/>
<polyline points="195.50,59.60 196.50,59.60"/>
<polyline points="205.50,52.40 208.50,52.40 208.50,54.20 205.50,54.20 205.50,52.40"/>
<polyline points="216.50,52.40 215.50,51.50 212.50,51.50 210.50,53.30 210.50,57.80 212.50,59.60 215.50,59.60 216.50,58.70"/>
<polyline points="540.50,14.50 535.50,14.50 535.50,23.50"/>
<polyline points="535.50,19.50 539.50,19.50"/>
<polyline points="543.50,17.50 546.50,17.50 547.50,18.50 547.50,22.50 546.50,23.50 543.50,23.50 542.50,22.50 542.50,18.50 543.50,17.50"/>
<polyline points="550.50,17.50 550.50,23.50"/>
<polyline points="550.50,19.50 552.50,17.50 554.50,17.50"/>
<polyline points="561.50,15.50 562.50,14.50 565.50,14.50 566.50,15.50 566.50,17.50 561.50,22.50 561.50,23.50 567.50,23.50"/>
<polyline points="571.50,14.50 573.50,14.50 575.50,16.50 575.50,22.50 574.50,23.50 570.50,23.50 569.50,22.50 569.50,16.50 571.50,14.50"/>
<polyline points="579.50,14.50 581.50,14.50 583.50,16.50 583.50,22.50 582.50,23.50 578.50,23.50 577.50,22.50 577.50,16.50 579.50,14.50"/>
<polyline points="591.50,20.50 586.50,20.50 585.50,19.50 585.50,16.50 587.50,14.50 589.50,14.50 591.50,16.50 591.50,22.50 590.50,23.50 586.50,23.50 585.50,22.50"/>
<polyline points="593.50,25.50 600.50,13.50"/>
<polyline points="604.50,14.50 606.50,14.50 608.50,16.50 608.50,22.50 607.50,23.50 603.50,23.50 602.50,22.50 602.50,16.50 604.50,14.50"/>
<polyline points="612.50,14.50 614.50,14.50 615.50,15.50 615.50,17.50 614.50,18.50 612.50,18.50 611.50,17.50 611.50,15.50 612.50,14.50"/>
<polyline points="612.50,18.50 610.50,20.50 610.50,22.50 611.50,23.50 615.50,23.50 616.50,22.50 616.50,20.50 614.50,18.50"/>
<polyline points="618.50,25.50 625.50,13.50"/>
<polyline points="629.50,15.50 630.50,14.50 630.50,23.50"/>
<polyline points="640.50,15.50 639.50,14.50 637.50,14.50 635.50,16.50 635.50,22.50 636.50,23.50 640.50,23.50 641.50,22.50 641.50,20.50 640.50,19.50 636.50,19.50 635.50,20.50"/>
<polyline points="643.50,19.50 651.50,19.50"/>
<polyline points="653.50,15.50 654.50,14.50 657.50,14.50 658.50,15.50 658.50,17.50 653.50,22.50 653.50,23.50 659.50,23.50"/>
<polyline points="663.50,14.50 665.50,14.50 667.50,16.50 667.50,22.50 666.50,23.50 662.50,23.50 661.50,22.50 661.50,16.50 663.50,14.50"/>
<polyline points="670.50,14.50 672.50,14.50 674.50,16.50 674.50,22.50 673.50,23.50 669.50,23.50 668.50,22.50 668.50,16.50 670.50,14.50"/>
<polyline points="682.50,20.50 677.50,20.50 676.50,19.50 676.50,16.50 678.50,14.50 680.50,14.50 682.50,16.50 682.50,22.50 681.50,23.50 677.50,23.50 676.50,22.50"/>
<polyline points="684.50,25.50 691.50,13.50"/>
<polyline points="696.50,14.50 698.50,14.50 700.50,16.50 700.50,22.50 699.50,23.50 695.50,23.50 694.50,22.50 694.50,16.50 696.50,14.50"/>
<polyline points="708.50,20.50 703.50,20.50 702.50,19.50 702.50,16.50 704.50,14.50 706.50,14.50 708.50,16.50 708.50,22.50 707.50,23.50 703.50,23.50 702.50,22.50"/>
<polyline points="710.50,25.50 717.50,13.50"/>
<polyline points="719.50,15.50 720.50,14.50 723.50,14.50 724.50,15.50 724.50,17.50 719.50,22.50 719.50,23.50 725.50,23.50"/>
<polyline points="732.50,14.50 727.50,20.50 734.50,20.50"/>
<polyline points="732.50,14.50 732.50,23.50"/>
<polyline points="497.50,33.50 492.50,33.50 492.50,41.60"/>
<polyline points="492.50,38.00 496.50,38.00"/>
<polyline points="504.50,37.10 503.50,36.20 500.50,36.20 499.50,37.10 499.50,40.70 500.50,41.60 503.50,41.60 504.50,40.70"/>
<polyline points="512.50,37.10 511.50,36.20 508.50,36.20 507.50,37.10 507.50,38.00 508.50,38.90 511.50,38.90 512.50,39.80 512.50,40.70 511.50,41.60 508.50,41.60 507.50,40.70"/>
<polyline points="515.50,33.50 515.50,40.70 516.50,41.60 517.50,41.60"/>
<polyline points="514.50,36.20 517.50,36.20"/>
<polyline points="532.50,34.40 531.50,33.50 527.50,33.50 526.50,34.40 526.50,36.20 527.50,37.10 531.50,37.10 532.50,38.00 532.50,40.70 531.50,41.60 527.50,41.60 526.50,40.70"/>
<polyline points="536.50,33.50 536.50,40.70 537.50,41.60 538.50,41.60"/>
<polyline points="535.50,36.20 538.50,36.20"/>
<polyline points="546.50,36.20 546.50,41.60"/>
<polyline points="546.50,37.10 545.50,36.20 542.50,36.20 541.50,37.10 541.50,40.70 542.50,41.60 545.50,41.60 546.50,40.70"/>
<polyline points="548.50,36.20 548.50,41.60"/>
<polyline points="548.50,38.00 550.50,36.20 552.50,36.20"/>
<polyline points="554.50,33.50 554.50,40.70 555.50,41.60 556.50,41.60"/>
<polyline points="553.50,36.20 556.50,36.20"/>
<polyline points="559.50,38.90 564.50,38.90 564.50,37.10 563.50,36.20 560.50,36.20 559.50,37.10 559.50,40.70 560.50,41.60 563.50,41.60 564.50,40.70"/>
<polyline points="571.50,33.50 571.50,41.60"/>
<polyline points="571.50,37.10 570.50,36.20 567.50,36.20 566.50,37.10 566.50,40.70 567.50,41.60 570.50,41.60 571.50,40.70"/>
<polyline points="580.50,41.60 580.50,33.50 584.50,33.50 585.50,34.40 585.50,36.20 584.50,37.10 580.50,37.10"/>
<polyline points="583.50,37.10 585.50,41.60"/>
<polyline points="588.50,38.90 593.50,38.90 593.50,37.10 592.50,36.20 589.50,36.20 588.50,37.10 588.50,40.70 589.50,41.60 592.50,41.60 593.50,40.70"/>
<polyline points="600.50,33.50 598.50,33.50 597.50,34.40 597.50,41.60"/>
<polyline points="596.50,36.20 599.50,36.20"/>
<polyline points="601.50,38.90 606.50,38.90 606.50,37.10 605.50,36.20 602.50,36.20 601.50,37.10 601.50,40.70 602.50,41.60 605.50,41.60 606.50,40.70"/>
<polyline points="608.50,36.20 608.50,41.60"/>
<polyline points="608.50,38.00 610.50,36.20 612.50,36.20"/>
<polyline points="619.50,33.50 623.50,33.50 624.50,34.40 624.50,40.70 623.50,41.60 619.50,41.60 619.50,33.50"/>
<polyline points="632.50,36.20 632.50,41.60"/>
<polyline points="632.50,37.10 631.50,36.20 628.50,36.20 627.50,37.10 627.50,40.70 628.50,41.60 631.50,41.60 632.50,40.70"/>
<polyline points="635.50,33.50 635.50,40.70 636.50,41.60 637.50,41.60"/>
<polyline points="634.50,36.20 637.50,36.20"/>
<polyline points="640.50,38.90 645.50,38.90 645.50,37.10 644.50,36.20 641.50,36.20 640.50,37.10 640.50,40.70 641.50,41.60 644.50,41.60 645.50,40.70"/>
<polyline points="653.50,34.40 654.50,33.50 657.50,33.50 658.50,34.40 658.50,36.20 653.50,40.70 653.50,41.60 659.50,41.60"/>
<polyline points="663.50,33.50 665.50,33.50 667.50,35.30 667.50,40.70 666.50,41.60 662.50,41.60 661.50,40.70 661.50,35.30 663.50,33.50"/>
<polyline points="671.50,33.50 673.50,33.50 675.50,35.30 675.50,40.70 674.50,41.60 670.50,41.60 669.50,40.70 669.50,35.30 671.50,33.50"/>
<polyline points="683.50,38.90 678.50,38.90 677.50,38.00 677.50,35.30 679.50,33.50 681.50,33.50 683.50,35.30 683.50,40.70 682.50,41.60 678.50,41.60 677.50,40.70"/>
<polyline points="685.50,43.40 692.50,32.60"/>
<polyline points="697.50,33.50 699.50,33.50 701.50,35.30 701.50,40.70 700.50,41.60 696.50,41.60 695.50,40.70 695.50,35.30 697.50,33.50"/>
<polyline points="705.50,33.50 707.50,33.50 708.50,34.40 708.50,36.20 707.50,37.10 705.50,37.10 704.50,36.20 704.50,34.40 705.50,33.50"/>
<polyline points="705.50,37.10 703.50,38.90 703.50,40.70 704.50,41.60 708.50,41.60 709.50,40.70 709.50,38.90 707.50,37.10"/>
<polyline points="711.50,43.40 718.50,32.60"/>
<polyline points="721.50,34.40 722.50,33.50 722.50,41.60"/>
<polyline points="733.50,33.50 728.50,33.50 727.50,37.10 732.50,37.10 733.50,38.00 733.50,40.70 732.50,41.60 728.50,41.60 727.50,40.70"/>
<polyline points="525.50,51.50 520.50,51.50 520.50,59.60"/>
<polyline points="520.50,56.00 524.50,56.00"/>
<polyline points="532.50,55.10 531.50,54.20 528.50,54.20 527.50,55.10 527.50,58.70 528.50,59.60 531.50,59.60 532.50,58.70"/>
<polyline points="540.50,55.10 539.50,54.20 536.50,54.20 535.50,55.10 535.50,56.00 536.50,56.90 539.50,56.90 540.50,57.80 540.50,58.70 539.50,59.60 536.50,59.60 535.50,58.70"/>
<polyline points="543.50,51.50 543.50,58.70 544.50,59.60 545.50,59.60"/>
<polyline points="542.50,54.20 545.50,54.20"/>
<polyline points="554.50,59.60 554.50,51.50 558.50,51.50 559.50,52.40 559.50,54.20 558.50,55.10 554.50,55.10"/>
<polyline points="562.50,54.20 562.50,59.60"/>
<polyline points="562.50,56.00 564.50,54.20 566.50,54.20"/>
<polyline points="568.50,54.20 571.50,54.20 572.50,55.10 572.50,58.70 571.50,59.60 568.50,59.60 567.50,58.70 567.50,55.10 568.50,54.20"/>
<polyline points="580.50,51.50 580.50,59.60"/>
<polyline points="580.50,55.10 579.50,54.20 576.50,54.20 575.50,55.10 575.50,58.70 576.50,59.60 579.50,59.60 580.50,58.70"/>
<polyline points="583.50,54.20 583.50,58.70 584.50,59.60 586.50,59.60 587.50,58.70"/>
<polyline points="587.50,54.20 587.50,59.60"/>
<polyline points="595.50,55.10 594.50,54.20 591.50,54.20 590.50,55.10 590.50,58.70 591.50,59.60 594.50,59.60 595.50,58.70"/>
<polyline points="598.50,56.90 603.50,56.90 603.50,55.10 602.50,54.20 599.50,54.20 598.50,55.10 598.50,58.70 599.50,59.60 602.50,59.60 603.50,58.70"/>
<polyline points="610.50,51.50 610.50,59.60"/>
<polyline points="610.50,55.10 609.50,54.20 606.50,54.20 605.50,55.10 605.50,58.70 606.50,59.60 609.50,59.60 610.50,58.70"/>
<polyline points="619.50,51.50 623.50,51.50 624.50,52.40 624.50,58.70 623.50,59.60 619.50,59.60 619.50,51.50"/>
<polyline points="632.50,54.20 632.50,59.60"/>
<polyline points="632.50,55.10 631.50,54.20 628.50,54.20 627.50,55.10 627.50,58.70 628.50,59.60 631.50,59.60 632.50,58.70"/>
<polyline points="635.50,51.50 635.50,58.70 636.50,59.60 637.50,59.60"/>
<polyline points="634.50,54.20 637.50,54.20"/>
<polyline points="640.50,56.90 645.50,56.90 645.50,55.10 644.50,54.20 641.50,54.20 640.50,55.10 640.50,58.70 641.50,59.60 644.50,59.60 645.50,58.70"/>
<polyline points="654.50,52.40 655.50,51.50 658.50,51.50 659.50,52.40 659.50,54.20 654.50,58.70 654.50,59.60 660.50,59.60"/>
<polyline points="663.50,51.50 665.50,51.50 667.50,53.30 667.50,58.70 666.50,59.60 662.50,59.60 661.50,58.70 661.50,53.30 663.50,51.50"/>
<polyline points="671.50,51.50 673.50,51.50 675.50,53.30 675.50,58.70 674.50,59.60 670.50,59.60 669.50,58.70 669.50,53.30 671.50,51.50"/>
<polyline points="683.50,56.90 678.50,56.90 677.50,56.00 677.50,53.30 679.50,51.50 681.50,51.50 683.50,53.30 683.50,58.70 682.50,59.60 678.50,59.60 677.50,58.70"/>
<polyline points="685.50,61.40 692.50,50.60"/>
<polyline points="697.50,51.50 699.50,51.50 701.50,53.30 701.50,58.70 700.50,59.60 696.50,59.60 695.50,58.70 695.50,53.30 697.50,51.50"/>
<polyline points="705.50,51.50 707.50,51.50 708.50,52.40 708.50,54.20 707.50,55.10 705.50,55.10 704.50,54.20 704.50,52.40 705.50,51.50"/>
<polyline points="705.50,55.10 703.50,56.90 703.50,58.70 704.50,59.60 708.50,59.60 709.50,58.70 709.50,56.90 707.50,55.10"/>
<polyline points="711.50,61.40 718.50,50.60"/>
<polyline points="721.50,52.40 722.50,51.50 722.50,59.60"/>
<polyline points="732.50,52.40 731.50,51.50 729.50,51.50 727.50,53.30 727.50,58.70 728.50,59.60 732.50,59.60 733.50,58.70 733.50,56.90 732.50,56.00 728.50,56.00 727.50,56.90"/>
<polyline points="61.50,76.39 62.39,75.50 65.94,75.50 66.83,76.39 66.83,78.17 65.94,79.06 63.28,79.06"/>
<polyline points="65.94,79.06 66.83,79.94 66.83,82.61 65.94,83.50 62.39,83.50 61.50,82.61"/>
<polyline points="68.50,76.39 69.39,75.50 72.94,75.50 73.83,76.39 73.83,78.17 72.94,79.06 70.28,79.06"/>
<polyline points="72.94,79.06 73.83,79.94 73.83,82.61 72.94,83.50 69.39,83.50 68.50,82.61"/>
<polyline points="61.50,114.39 62.39,113.50 65.94,113.50 66.83,114.39 66.83,116.17 65.94,117.06 63.28,117.06"/>
<polyline points="65.94,117.06 66.83,117.94 66.83,120.61 65.94,121.50 62.39,121.50 61.50,120.61"/>
<polyline points="70.28,113.50 72.06,113.50 73.83,115.28 73.83,120.61 72.94,121.50 69.39,121.50 68.50,120.61 68.50,115.28 70.28,113.50"/>
<polyline points="61.50,153.39 62.39,152.50 65.06,152.50 65.94,153.39 65.94,155.17 61.50,159.61 61.50,160.50 66.83,160.50"/>
<polyline points="68.50,152.50 73.83,152.50 73.83,153.39 70.28,160.50"/>
<polyline points="60.50,191.39 61.39,190.50 64.06,190.50 64.94,191.39 64.94,193.17 60.50,197.61 60.50,198.50 65.83,198.50"/>
<polyline points="71.94,190.50 67.50,195.83 73.72,195.83"/>
<polyline points="71.94,190.50 71.94,198.50"/>
<polyline points="64.50,230.39 65.39,229.50 68.06,229.50 68.94,230.39 68.94,232.17 64.50,236.61 64.50,237.50 69.83,237.50"/>
<polyline points="72.39,230.39 73.28,229.50 73.28,237.50"/>
<polyline points="62.39,268.39 63.28,267.50 63.28,275.50"/>
<polyline points="70.28,267.50 72.06,267.50 72.94,268.39 72.94,270.17 72.06,271.06 70.28,271.06 69.39,270.17 69.39,268.39 70.28,267.50"/>
<polyline points="70.28,271.06 68.50,272.83 68.50,274.61 69.39,275.50 72.94,275.50 73.83,274.61 73.83,272.83 72.06,271.06"/>
<polyline points="68.50,339.39 69.39,338.50 72.06,338.50 72.94,339.39 72.94,341.17 68.50,345.61 68.50,346.50 73.83,346.50"/>
<polyline points="72.39,368.39 73.28,367.50 73.28,375.50"/>
<polyline points="70.28,396.50 72.06,396.50 73.83,398.28 73.83,403.61 72.94,404.50 69.39,404.50 68.50,403.61 68.50,398.28 70.28,396.50"/>
<polyline points="65.50,429.94 69.94,429.94"/>
<polyline points="72.39,426.39 73.28,425.50 73.28,433.50"/>
<polyline points="61.50,459.94 65.94,459.94"/>
<polyline points="68.50,456.39 69.39,455.50 72.06,455.50 72.94,456.39 72.94,458.17 68.50,462.61 68.50,463.50 73.83,463.50"/>
<polyline points="61.50,488.94 65.94,488.94"/>
<polyline points="68.50,485.39 69.39,484.50 72.94,484.50 73.83,485.39 73.83,487.17 72.94,488.06 70.28,488.06"/>
<polyline points="72.94,488.06 73.83,488.94 73.83,491.61 72.94,492.50 69.39,492.50 68.50,491.61"/>
<polyline points="61.50,517.95 65.94,517.95"/>
<polyline points="71.94,513.50 67.50,518.83 73.72,518.83"/>
<polyline points="71.94,513.50 71.94,521.50"/>
<polyline points="61.50,546.95 65.94,546.95"/>
<polyline points="73.83,542.50 69.39,542.50 68.50,546.06 72.94,546.06 73.83,546.95 73.83,549.61 72.94,550.50 69.39,550.50 68.50,549.61"/>
<polyline points="81.30,291.39 82.10,290.50 82.10,298.50"/>
<polyline points="90.50,291.39 89.70,290.50 88.10,290.50 86.50,292.28 86.50,297.61 87.30,298.50 90.50,298.50 91.30,297.61 91.30,295.83 90.50,294.94 87.30,294.94 86.50,295.83"/>
<polyline points="93.50,298.50 95.90,290.50 98.30,298.50"/>
<polyline points="94.30,295.83 97.50,295.83"/>
<polyline points="100.50,290.50 100.50,297.61 101.30,298.50 103.70,298.50 104.50,297.61 104.50,290.50"/>
<polyline points="112.30,291.39 111.50,290.50 109.10,290.50 107.50,292.28 107.50,296.72 109.10,298.50 111.50,298.50 112.30,297.61 112.30,294.94 110.70,294.94"/>
<polyline points="81.30,552.95 82.10,552.10 82.10,559.75"/>
<polyline points="90.50,552.95 89.70,552.10 88.10,552.10 86.50,553.80 86.50,558.90 87.30,559.75 90.50,559.75 91.30,558.90 91.30,557.20 90.50,556.35 87.30,556.35 86.50,557.20"/>
<polyline points="93.50,559.75 95.90,552.10 98.30,559.75"/>
<polyline points="94.30,557.20 97.50,557.20"/>
<polyline points="100.50,552.10 100.50,558.90 101.30,559.75 103.70,559.75 104.50,558.90 104.50,552.10"/>
<polyline points="112.30,552.95 111.50,552.10 109.10,552.10 107.50,553.80 107.50,558.05 109.10,559.75 111.50,559.75 112.30,558.90 112.30,556.35 110.70,556.35"/>
<polyline points="160.50,291.39 161.30,290.50 163.70,290.50 164.50,291.39 164.50,293.17 160.50,297.61 160.50,298.50 165.30,298.50"/>
<polyline points="168.30,291.39 169.10,290.50 169.10,298.50"/>
<polyline points="173.50,298.50 175.90,290.50 178.30,298.50"/>
<polyline points="174.30,295.83 177.50,295.83"/>
<polyline points="180.50,290.50 180.50,297.61 181.30,298.50 183.70,298.50 184.50,297.61 184.50,290.50"/>
<polyline points="192.30,291.39 191.50,290.50 189.10,290.50 187.50,292.28 187.50,296.72 189.10,298.50 191.50,298.50 192.30,297.61 192.30,294.94 190.70,294.94"/>
<polyline points="160.50,552.95 161.30,552.10 163.70,552.10 164.50,552.95 164.50,554.65 160.50,558.90 160.50,559.75 165.30,559.75"/>
<polyline points="168.30,552.95 169.10,552.10 169.10,559.75"/>
<polyline points="173.50,559.75 175.90,552.10 178.30,559.75"/>
<polyline points="174.30,557.20 177.50,557.20"/>
<polyline points="180.50,552.10 180.50,558.90 181.30,559.75 183.70,559.75 184.50,558.90 184.50,552.10"/>
<polyline points="192.30,552.95 191.50,552.10 189.10,552.10 187.50,553.80 187.50,558.05 189.10,559.75 191.50,559.75 192.30,558.90 192.30,556.35 190.70,556.35"/>
<polyline points="239.50,291.39 240.30,290.50 242.70,290.50 243.50,291.39 243.50,293.17 239.50,297.61 239.50,298.50 244.30,298.50"/>
<polyline points="250.50,291.39 249.70,290.50 248.10,290.50 246.50,292.28 246.50,297.61 247.30,298.50 250.50,298.50 251.30,297.61 251.30,295.83 250.50,294.94 247.30,294.94 246.50,295.83"/>
<polyline points="253.50,298.50 255.90,290.50 258.30,298.50"/>
<polyline points="254.30,295.83 257.50,295.83"/>
<polyline points="260.50,290.50 260.50,297.61 261.30,298.50 263.70,298.50 264.50,297.61 264.50,290.50"/>
<polyline points="272.30,291.39 271.50,290.50 269.10,290.50 267.50,292.28 267.50,296.72 269.10,298.50 271.50,298.50 272.30,297.61 272.30,294.94 270.70,294.94"/>
<polyline points="239.50,552.95 240.30,552.10 242.70,552.10 243.50,552.95 243.50,554.65 239.50,558.90 239.50,559.75 244.30,559.75"/>
<polyline points="250.50,552.95 249.70,552.10 248.10,552.10 246.50,553.80 246.50,558.90 247.30,559.75 250.50,559.75 251.30,558.90 251.30,557.20 250.50,556.35 247.30,556.35 246.50,557.20"/>
<polyline points="253.50,559.75 255.90,552.10 258.30,559.75"/>
<polyline points="254.30,557.20 257.50,557.20"/>
<polyline points="260.50,552.10 260.50,558.90 261.30,559.75 263.70,559.75 264.50,558.90 264.50,552.10"/>
<polyline points="272.30,552.95 271.50,552.10 269.10,552.10 267.50,553.80 267.50,558.05 269.10,559.75 271.50,559.75 272.30,558.90 272.30,556.35 270.70,556.35"/>
<polyline points="340.30,291.39 341.10,290.50 341.10,298.50"/>
<polyline points="350.30,291.39 349.50,290.50 346.30,290.50 345.50,291.39 345.50,293.17 346.30,294.06 349.50,294.06 350.30,294.94 350.30,297.61 349.50,298.50 346.30,298.50 345.50,297.61"/>
<polyline points="356.50,290.50 352.50,290.50 352.50,298.50 356.50,298.50"/>
<polyline points="352.50,294.94 355.70,294.94"/>
<polyline points="359.50,298.50 359.50,290.50 362.70,290.50 363.50,291.39 363.50,293.17 362.70,294.06 359.50,294.06"/>
<polyline points="340.30,552.95 341.10,552.10 341.10,559.75"/>
<polyline points="350.30,552.95 349.50,552.10 346.30,552.10 345.50,552.95 345.50,554.65 346.30,555.50 349.50,555.50 350.30,556.35 350.30,558.90 349.50,559.75 346.30,559.75 345.50,558.90"/>
<polyline points="356.50,552.10 352.50,552.10 352.50,559.75 356.50,559.75"/>
<polyline points="352.50,556.35 355.70,556.35"/>
<polyline points="359.50,559.75 359.50,552.10 362.70,552.10 363.50,552.95 363.50,554.65 362.70,555.50 359.50,555.50"/>
<polyline points="423.50,291.39 422.70,290.50 421.10,290.50 419.50,292.28 419.50,297.61 420.30,298.50 423.50,298.50 424.30,297.61 424.30,295.83 423.50,294.94 420.30,294.94 419.50,295.83"/>
<polyline points="431.30,291.39 430.50,290.50 427.30,290.50 426.50,291.39 426.50,293.17 427.30,294.06 430.50,294.06 431.30,294.94 431.30,297.61 430.50,298.50 427.30,298.50 426.50,297.61"/>
<polyline points="437.50,290.50 433.50,290.50 433.50,298.50 437.50,298.50"/>
<polyline points="433.50,294.94 436.70,294.94"/>
<polyline points="440.50,298.50 440.50,290.50 443.70,290.50 444.50,291.39 444.50,293.17 443.70,294.06 440.50,294.06"/>
<polyline points="423.50,552.95 422.70,552.10 421.10,552.10 419.50,553.80 419.50,558.90 420.30,559.75 423.50,559.75 424.30,558.90 424.30,557.20 423.50,556.35 420.30,556.35 419.50,557.20"/>
<polyline points="431.30,552.95 430.50,552.10 427.30,552.10 426.50,552.95 426.50,554.65 427.30,555.50 430.50,555.50 431.30,556.35 431.30,558.90 430.50,559.75 427.30,559.75 426.50,558.90"/>
<polyline points="437.50,552.10 433.50,552.10 433.50,559.75 437.50,559.75"/>
<polyline points="433.50,556.35 436.70,556.35"/>
<polyline points="440.50,559.75 440.50,552.10 443.70,552.10 444.50,552.95 444.50,554.65 443.70,555.50 440.50,555.50"/>
<polyline points="496.30,291.39 497.10,290.50 497.10,298.50"/>
<polyline points="502.30,291.39 503.10,290.50 503.10,298.50"/>
<polyline points="512.30,291.39 511.50,290.50 508.30,290.50 507.50,291.39 507.50,293.17 508.30,294.06 511.50,294.06 512.30,294.94 512.30,297.61 511.50,298.50 508.30,298.50 507.50,297.61"/>
<polyline points="518.50,290.50 514.50,290.50 514.50,298.50 518.50,298.50"/>
<polyline points="514.50,294.94 517.70,294.94"/>
<polyline points="521.50,298.50 521.50,290.50 524.70,290.50 525.50,291.39 525.50,293.17 524.70,294.06 521.50,294.06"/>
<polyline points="496.30,552.95 497.10,552.10 497.10,559.75"/>
<polyline points="502.30,552.95 503.10,552.10 503.10,559.75"/>
<polyline points="512.30,552.95 511.50,552.10 508.30,552.10 507.50,552.95 507.50,554.65 508.30,555.50 511.50,555.50 512.30,556.35 512.30,558.90 511.50,559.75 508.30,559.75 507.50,558.90"/>
<polyline points="518.50,552.10 514.50,552.10 514.50,559.75 518.50,559.75"/>
<polyline points="514.50,556.35 517.70,556.35"/>
<polyline points="521.50,559.75 521.50,552.10 524.70,552.10 525.50,552.95 525.50,554.65 524.70,555.50 521.50,555.50"/>
<polyline points="575.30,291.39 576.10,290.50 576.10,298.50"/>
<polyline points="584.50,291.39 583.70,290.50 582.10,290.50 580.50,292.28 580.50,297.61 581.30,298.50 584.50,298.50 585.30,297.61 585.30,295.83 584.50,294.94 581.30,294.94 580.50,295.83"/>
<polyline points="592.30,291.39 591.50,290.50 588.30,290.50 587.50,291.39 587.50,293.17 588.30,294.06 591.50,294.06 592.30,294.94 592.30,297.61 591.50,298.50 588.30,298.50 587.50,297.61"/>
<polyline points="599.50,290.50 595.50,290.50 595.50,298.50 599.50,298.50"/>
<polyline points="595.50,294.94 598.70,294.94"/>
<polyline points="602.50,298.50 602.50,290.50 605.70,290.50 606.50,291.39 606.50,293.17 605.70,294.06 602.50,294.06"/>
<polyline points="575.30,552.95 576.10,552.10 576.10,559.75"/>
<polyline points="584.50,552.95 583.70,552.10 582.10,552.10 580.50,553.80 580.50,558.90 581.30,559.75 584.50,559.75 585.30,558.90 585.30,557.20 584.50,556.35 581.30,556.35 580.50,557.20"/>
<polyline points="592.30,552.95 591.50,552.10 588.30,552.10 587.50,552.95 587.50,554.65 588.30,555.50 591.50,555.50 592.30,556.35 592.30,558.90 591.50,559.75 588.30,559.75 587.50,558.90"/>
<polyline points="599.50,552.10 595.50,552.10 595.50,559.75 599.50,559.75"/>
<polyline points="595.50,556.35 598.70,556.35"/>
<polyline points="602.50,559.75 602.50,552.10 605.70,552.10 606.50,552.95 606.50,554.65 605.70,555.50 602.50,555.50"/>
<polyline points="655.50,291.39 656.30,290.50 658.70,290.50 659.50,291.39 659.50,293.17 655.50,297.61 655.50,298.50 660.30,298.50"/>
<polyline points="663.30,291.39 664.10,290.50 664.10,298.50"/>
<polyline points="673.30,291.39 672.50,290.50 669.30,290.50 668.50,291.39 668.50,293.17 669.30,294.06 672.50,294.06 673.30,294.94 673.30,297.61 672.50,298.50 669.30,298.50 668.50,297.61"/>
<polyline points="679.50,290.50 675.50,290.50 675.50,298.50 679.50,298.50"/>
<polyline points="675.50,294.94 678.70,294.94"/>
<polyline points="682.50,298.50 682.50,290.50 685.70,290.50 686.50,291.39 686.50,293.17 685.70,294.06 682.50,294.06"/>
<polyline points="655.50,552.95 656.30,552.10 658.70,552.10 659.50,552.95 659.50,554.65 655.50,558.90 655.50,559.75 660.30,559.75"/>
<polyline points="663.30,552.95 664.10,552.10 664.10,559.75"/>
<polyline points="673.30,552.95 672.50,552.10 669.30,552.10 668.50,552.95 668.50,554.65 669.30,555.50 672.50,555.50 673.30,556.35 673.30,558.90 672.50,559.75 669.30,559.75 668.50,558.90"/>
<polyline points="679.50,552.10 675.50,552.10 675.50,559.75 679.50,559.75"/>
<polyline points="675.50,556.35 678.70,556.35"/>
<polyline points="682.50,559.75 682.50,552.10 685.70,552.10 686.50,552.95 686.50,554.65 685.70,555.50 682.50,555.50"/>
<polyline points="84.50,303.39 85.30,302.50 87.70,302.50 88.50,303.39 88.50,305.17 84.50,309.61 84.50,310.50 89.30,310.50"/>
<polyline points="93.10,302.50 94.70,302.50 96.30,304.28 96.30,309.61 95.50,310.50 92.30,310.50 91.50,309.61 91.50,304.28 93.10,302.50"/>
<polyline points="99.10,302.50 100.70,302.50 102.30,304.28 102.30,309.61 101.50,310.50 98.30,310.50 97.50,309.61 97.50,304.28 99.10,302.50"/>
<polyline points="109.30,307.83 105.30,307.83 104.50,306.94 104.50,304.28 106.10,302.50 107.70,302.50 109.30,304.28 109.30,309.61 108.50,310.50 105.30,310.50 104.50,309.61"/>
<polyline points="84.50,565.39 85.30,564.50 87.70,564.50 88.50,565.39 88.50,567.17 84.50,571.61 84.50,572.50 89.30,572.50"/>
<polyline points="93.10,564.50 94.70,564.50 96.30,566.28 96.30,571.61 95.50,572.50 92.30,572.50 91.50,571.61 91.50,566.28 93.10,564.50"/>
<polyline points="99.10,564.50 100.70,564.50 102.30,566.28 102.30,571.61 101.50,572.50 98.30,572.50 97.50,571.61 97.50,566.28 99.10,564.50"/>
<polyline points="109.30,569.83 105.30,569.83 104.50,568.95 104.50,566.28 106.10,564.50 107.70,564.50 109.30,566.28 109.30,571.61 108.50,572.50 105.30,572.50 104.50,571.61"/>
<polyline points="81.50,321.50 81.50,313.50 85.50,313.50 86.50,314.39 86.50,316.17 85.50,317.06 81.50,317.06"/>
<polyline points="89.50,316.17 89.50,321.50"/>
<polyline points="89.50,317.94 91.50,316.17 93.50,316.17"/>
<polyline points="94.50,318.83 99.50,318.83 99.50,317.06 98.50,316.17 95.50,316.17 94.50,317.06 94.50,320.61 95.50,321.50 98.50,321.50 99.50,320.61"/>
<polyline points="106.50,317.06 105.50,316.17 102.50,316.17 101.50,317.06 101.50,320.61 102.50,321.50 105.50,321.50 106.50,320.61"/>
<polyline points="109.50,321.50 110.50,321.50"/>
<polyline points="114.50,316.17 115.50,316.17"/>
<polyline points="114.50,321.50 115.50,321.50"/>
<polyline points="123.50,313.50 123.50,321.50"/>
<polyline points="127.50,316.17 130.50,316.17 131.50,317.06 131.50,320.61 130.50,321.50 127.50,321.50 126.50,320.61 126.50,317.06 127.50,316.17"/>
<polyline points="139.50,316.17 139.50,323.28 138.50,324.17 135.50,324.17 134.50,323.28"/>
<polyline points="139.50,317.06 138.50,316.17 135.50,316.17 134.50,317.06 134.50,320.61 135.50,321.50 138.50,321.50 139.50,320.61"/>
<polyline points="145.50,311.72 142.50,316.17 142.50,320.61 145.50,324.17"/>
<polyline points="148.50,316.17 148.50,321.50"/>
<polyline points="148.50,317.06 149.50,316.17 151.50,316.17 152.50,317.06 152.50,321.50"/>
<polyline points="152.50,317.06 153.50,316.17 156.50,316.17 157.50,317.06 157.50,321.50"/>
<polyline points="160.50,316.17 160.50,321.50"/>
<polyline points="160.50,317.06 161.50,316.17 163.50,316.17 164.50,317.06 164.50,321.50"/>
<polyline points="164.50,317.06 165.50,316.17 168.50,316.17 169.50,317.06 169.50,321.50"/>
<polyline points="172.50,323.28 179.50,312.61"/>
<polyline points="186.50,313.50 186.50,321.50"/>
<polyline points="186.50,317.06 185.50,316.17 182.50,316.17 181.50,317.06 181.50,320.61 182.50,321.50 185.50,321.50 186.50,320.61"/>
<polyline points="189.50,311.72 192.50,316.17 192.50,320.61 189.50,324.17"/>
<polyline points="74.50,585.50 74.50,594.50"/>
<polyline points="74.50,589.50 75.50,588.50 78.50,588.50 79.50,589.50 79.50,594.50"/>
<polyline points="83.50,585.50 83.50,593.50 84.50,594.50 85.50,594.50"/>
<polyline points="82.50,588.50 85.50,588.50"/>
<polyline points="88.50,585.50 88.50,593.50 89.50,594.50 90.50,594.50"/>
<polyline points="87.50,588.50 90.50,588.50"/>
<polyline points="93.50,588.50 93.50,597.50"/>
<polyline points="93.50,589.50 94.50,588.50 97.50,588.50 98.50,589.50 98.50,593.50 97.50,594.50 94.50,594.50 93.50,593.50"/>
<polyline points="100.50,588.50 101.50,588.50"/>
<polyline points="100.50,594.50 101.50,594.50"/>
<polyline points="103.50,596.50 110.50,584.50"/>
<polyline points="112.50,596.50 119.50,584.50"/>
<polyline points="126.50,589.50 125.50,588.50 122.50,588.50 121.50,589.50 121.50,593.50 122.50,594.50 125.50,594.50 126.50,593.50"/>
<polyline points="129.50,588.50 129.50,594.50"/>
<polyline points="129.50,589.50 130.50,588.50 132.50,588.50 133.50,589.50 133.50,594.50"/>
<polyline points="133.50,589.50 134.50,588.50 137.50,588.50 138.50,589.50 138.50,594.50"/>
<polyline points="145.50,585.50 145.50,594.50"/>
<polyline points="145.50,589.50 144.50,588.50 141.50,588.50 140.50,589.50 140.50,593.50 141.50,594.50 144.50,594.50 145.50,593.50"/>
<polyline points="148.50,588.50 148.50,597.50"/>
<polyline points="148.50,589.50 149.50,588.50 152.50,588.50 153.50,589.50 153.50,593.50 152.50,594.50 149.50,594.50 148.50,593.50"/>
<polyline points="155.50,594.50 156.50,594.50"/>
<polyline points="159.50,588.50 159.50,594.50"/>
<polyline points="159.50,589.50 160.50,588.50 163.50,588.50 164.50,589.50 164.50,594.50"/>
<polyline points="171.50,589.50 170.50,588.50 167.50,588.50 166.50,589.50 166.50,593.50 167.50,594.50 170.50,594.50 171.50,593.50"/>
<polyline points="179.50,589.50 178.50,588.50 175.50,588.50 174.50,589.50 174.50,593.50 175.50,594.50 178.50,594.50 179.50,593.50"/>
<polyline points="181.50,594.50 182.50,594.50"/>
<polyline points="190.50,589.50 189.50,588.50 186.50,588.50 185.50,589.50 185.50,593.50 186.50,594.50 189.50,594.50 190.50,593.50"/>
<polyline points="193.50,588.50 193.50,594.50"/>
<polyline points="193.50,589.50 194.50,588.50 196.50,588.50 197.50,589.50 197.50,594.50"/>
<polyline points="197.50,589.50 198.50,588.50 201.50,588.50 202.50,589.50 202.50,594.50"/>
<polyline points="209.50,588.50 209.50,594.50"/>
<polyline points="209.50,589.50 208.50,588.50 205.50,588.50 204.50,589.50 204.50,593.50 205.50,594.50 208.50,594.50 209.50,593.50"/>
<polyline points="211.50,594.50 212.50,594.50"/>
<polyline points="220.50,588.50 220.50,596.50 219.50,597.50 216.50,597.50 215.50,596.50"/>
<polyline points="220.50,589.50 219.50,588.50 216.50,588.50 215.50,589.50 215.50,593.50 216.50,594.50 219.50,594.50 220.50,593.50"/>
<polyline points="224.50,588.50 227.50,588.50 228.50,589.50 228.50,593.50 227.50,594.50 224.50,594.50 223.50,593.50 223.50,589.50 224.50,588.50"/>
<polyline points="231.50,588.50 234.00,594.50 236.50,588.50"/>
<polyline points="237.50,594.50 238.50,594.50"/>
<polyline points="246.50,589.50 245.50,588.50 242.50,588.50 241.50,589.50 241.50,593.50 242.50,594.50 245.50,594.50 246.50,593.50"/>
<polyline points="249.50,588.50 249.50,594.50"/>
<polyline points="249.50,589.50 250.50,588.50 253.50,588.50 254.50,589.50 254.50,594.50"/>
<polyline points="8.82,609.32 8.10,608.50 5.94,608.50 4.50,610.14 4.50,614.24 5.94,615.88 8.10,615.88 8.82,615.06 8.82,612.60 7.38,612.60"/>
<polyline points="10.50,610.96 10.50,615.88"/>
<polyline points="10.50,612.60 11.94,610.96 13.38,610.96"/>
<polyline points="14.50,615.88 16.66,608.50 18.82,615.88"/>
<polyline points="15.22,613.42 18.10,613.42"/>
<polyline points="19.50,608.50 22.38,608.50 23.10,609.32 23.10,615.06 22.38,615.88 19.50,615.88 19.50,608.50"/>
<polyline points="29.82,609.32 29.10,608.50 26.22,608.50 25.50,609.32 25.50,610.96 26.22,611.78 29.10,611.78 29.82,612.60 29.82,615.06 29.10,615.88 26.22,615.88 25.50,615.06"/>
<polyline points="31.50,610.96 32.22,610.96"/>
<polyline points="31.50,615.88 32.22,615.88"/>
<polyline points="42.82,609.32 42.10,608.50 39.94,608.50 38.50,610.14 38.50,614.24 39.94,615.88 42.10,615.88 42.82,615.06"/>
<polyline points="45.94,608.50 47.38,608.50 48.82,610.14 48.82,614.24 47.38,615.88 45.94,615.88 44.50,614.24 44.50,610.14 45.94,608.50"/>
<polyline points="51.50,608.50 51.50,615.88 55.10,615.88"/>
<polyline points="56.50,615.88 58.66,608.50 60.82,615.88"/>
<polyline points="57.22,613.42 60.10,613.42"/>
<polyline points="62.50,617.52 67.54,607.68"/>
<polyline points="69.50,608.50 69.50,615.88"/>
<polyline points="75.82,609.32 75.10,608.50 72.94,608.50 71.50,610.14 71.50,614.24 72.94,615.88 75.10,615.88 75.82,615.06 75.82,612.60 74.38,612.60"/>
<polyline points="81.10,608.50 77.50,608.50 77.50,615.88 81.10,615.88"/>
<polyline points="77.50,612.60 80.38,612.60"/>
<polyline points="87.82,609.32 87.10,608.50 84.22,608.50 83.50,609.32 83.50,610.96 84.22,611.78 87.10,611.78 87.82,612.60 87.82,615.06 87.10,615.88 84.22,615.88 83.50,615.06"/>
</g>
<g>
<circle cx="661.8" cy="585.7" r="19.2" fill="none" stroke="#d4d4d4" stroke-width="1"/>
<circle cx="661.8" cy="585.7" r="16.6" fill="none" stroke="#c8c8c8" stroke-width="1.6" stroke-dasharray="0.8 2.2" opacity="0.8"/>
<path d="M658.5,582 C656,576 661,572.5 666.5,575.5 C671.5,574 676.5,579.5 671.5,585.5" fill="none" stroke="#ee1c2e" stroke-width="2.3"/>
<path d="M661,579.5 C663,577.5 666.5,578.5 666,582.5" fill="none" stroke="#ee1c2e" stroke-width="1.6"/>
<path d="M655,578 C649.5,579.5 650,587.5 656,587 C659.5,591 667.5,590 668.5,585 C669,581 666,579 663.5,580" fill="none" stroke="#1e32f0" stroke-width="2.4"/>
<text x="662.5" y="598" font-family="Liberation Serif, serif" font-weight="bold" font-size="10.5" text-anchor="middle" fill="#10141c" stroke="#10141c" stroke-width="0.3" textLength="19" lengthAdjust="spacingAndGlyphs">BCC</text>
</g>
<g fill="none" stroke="#2a2cff">
<path d="M695,571.5 C686,576 683,586 687,593 C691,599 698,602 705.5,602" stroke-width="3.6" stroke-dasharray="2.6 0.9"/>
<path d="M722,571.5 C731,576 734,586 730,593 C726,599 719,602 712,602" stroke-width="3.6" stroke-dasharray="2.6 0.9"/>
<ellipse cx="708.3" cy="586.8" rx="18.6" ry="12.4" stroke-width="1.8"/>
<ellipse cx="708.3" cy="586.8" rx="14.5" ry="10.2" stroke-width="0.9"/>
<line x1="690" y1="586.8" x2="726" y2="586.8" stroke-width="0.8"/>
<path d="M693.5,582 Q698,577.5 704,579.5 L703.5,593 Q697,592 693.5,587.5 Z" stroke-width="1"/>
<line x1="701" y1="598.6" x2="715.5" y2="598.6" stroke-width="2"/>
<path d="M699.5,571 h5 M701.5,569 v4 M712.5,569.5 h4 v3 h-4z" stroke-width="1.1"/>
<path d="M697,580 L719,580 M697,593 L719,593 M708,575 L708,598" stroke-width="0.7"/>
</g>
<text x="716" y="590.5" font-family="Liberation Sans, sans-serif" font-weight="bold" font-style="italic" font-size="12" text-anchor="middle" fill="#2a2cff" textLength="20" lengthAdjust="spacingAndGlyphs">NCC</text>

</svg>
</body></html>
